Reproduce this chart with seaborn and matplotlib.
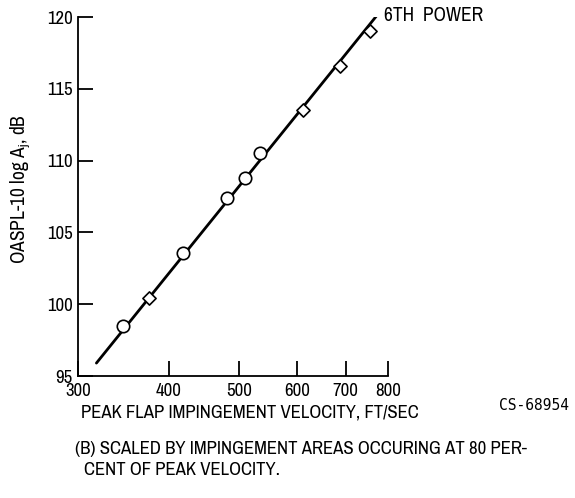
import matplotlib
matplotlib.use("Agg")
import matplotlib.pyplot as plt
import matplotlib.ticker as mticker
import seaborn as sns

# Data
circle_v = [346, 418, 480, 509, 534]
circle_db = [98.5, 103.6, 107.4, 108.8, 110.5]
diamond_v = [376, 611, 688, 756]
diamond_db = [100.4, 113.5, 116.6, 119.0]
line_v = [318, 775]
line_db = [95.9, 120.2]
x_ticks = [300, 400, 500, 600, 700, 800]
y_ticks = [95, 100, 105, 110, 115, 120]

sns.set_style("ticks")
FONT = ["Archivo Narrow", "DejaVu Sans"]
plt.rcParams["font.family"] = FONT
plt.rcParams["text.color"] = "black"
plt.rcParams["axes.labelcolor"] = "black"
plt.rcParams["mathtext.fontset"] = "custom"
plt.rcParams["mathtext.rm"] = "Archivo Narrow"

fig = plt.figure(figsize=(5.75, 4.98), dpi=100)
ax = fig.add_axes([78 / 575, 1 - 376 / 498, (388 - 78) / 575, (376 - 17) / 498])

sns.lineplot(x=line_v, y=line_db, ax=ax, color="black", linewidth=2.0)
sns.scatterplot(x=circle_v, y=circle_db, ax=ax, marker="o", s=80,
                facecolor="white", edgecolor="black", linewidth=1.2, zorder=3)
sns.scatterplot(x=diamond_v, y=diamond_db, ax=ax, marker="D", s=45,
                facecolor="white", edgecolor="black", linewidth=1.2, zorder=3)

ax.set_xscale("log")
ax.set_xlim(300, 800)
ax.set_ylim(95, 120)
ax.set_xticks(x_ticks, [str(t) for t in x_ticks], fontweight="bold")
ax.xaxis.set_minor_locator(mticker.NullLocator())
ax.set_yticks(y_ticks, [str(t) for t in y_ticks], fontweight="bold")

for s in ["top", "right"]:
    ax.spines[s].set_visible(False)
for s in ["left", "bottom"]:
    ax.spines[s].set_linewidth(1.3)
    ax.spines[s].set_color("black")

ax.tick_params(axis="both", direction="in", length=11, width=1.3,
               labelsize=13.5, colors="black")
ax.tick_params(axis="x", pad=5)
ax.tick_params(axis="y", pad=4)

ax.set_ylabel(r"OASPL-10 log A$_\mathregular{j}$, dB", fontsize=14)
ax.yaxis.set_label_coords(-0.148, 0.52)
ax.set_xlabel("")

ax.text(790, 120.1, "6TH  POWER", fontsize=14, fontweight="bold",
        ha="left", va="center")

fig.text(250 / 575, 1 - 412 / 498, "PEAK FLAP IMPINGEMENT VELOCITY, FT/SEC",
         fontsize=13.5, ha="center", va="center")
fig.text(534 / 575, 1 - 405 / 498, "CS-68954", fontsize=10.5,
         family=["DejaVu Sans Mono", "DejaVu Sans"],
         ha="center", va="center")
fig.text(75 / 575, 1 - 449 / 498,
         "(B) SCALED BY IMPINGEMENT AREAS OCCURING AT 80 PER-",
         fontsize=13.5, ha="left", va="center")
fig.text(84 / 575, 1 - 470 / 498, "CENT OF PEAK VELOCITY.",
         fontsize=13.5, ha="left", va="center")

fig.savefig("out.png", dpi=100)
